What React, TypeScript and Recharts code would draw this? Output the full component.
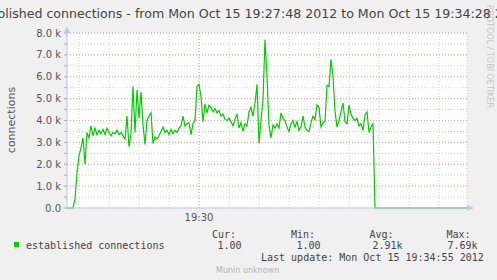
import { LineChart, Line, XAxis, YAxis, CartesianGrid } from 'recharts';

const title = 'established connections - from Mon Oct 15 19:27:48 2012 to Mon Oct 15 19:34:28 2012';
const seriesName = 'established connections';
const yLabel = 'connections';
const watermark = 'RRDTOOL / TOBI OETIKER';
const footer = 'Munin unknown';
const lastUpdate = 'Last update: Mon Oct 15 19:34:55 2012';

// one sample every 2 seconds, starting 19:27:48
const sampleSeconds = 2;
const connections = [
  1, 1, 1, 1, 400, 1600, 2400, 2750, 3200, 2000,
  3450, 3200, 3750, 3300, 3650, 3350, 3550, 3400, 3600, 3350,
  3650, 3450, 3300, 3450, 3400, 3550, 3350, 3450, 3300, 3150,
  4200, 2800, 3400, 5550, 3450, 5400, 4100, 5300, 3800, 2900,
  4000, 4200, 4350, 2950, 3250, 3150, 3300, 3500, 3700, 3450,
  3550, 3350, 3600, 3400, 3550, 3450, 3650, 3750, 4200, 3750,
  3850, 3900, 3350, 3850, 4000, 5550, 5650, 5100, 3950, 4750,
  4350, 4700, 4600, 4400, 4550, 4350, 4450, 4200, 4300, 4050,
  4000, 4100, 3950, 3750, 4050, 4300, 3650, 3900, 3500, 3850,
  3750, 4400, 4600, 4200, 4800, 5650, 2950, 4000, 4950, 7690,
  6000, 3800, 3200, 3800, 3650, 3850, 3650, 4350, 4100, 4000,
  3700, 3500, 3850, 4000, 3700, 3950, 3550, 3700, 4200, 3700,
  3550, 3500, 3900, 4200, 4050, 4700, 4600, 3700, 3900, 3950,
  5600, 5550, 6800, 6000, 4450, 3700, 4000, 4400, 4800, 3950,
  3850, 4700, 4300, 4100, 4000, 4100, 3750, 3850, 3550, 4250,
  4400, 3450, 3700, 3850, 1, 1, 1, 1, 1, 1,
  1, 1, 1, 1, 1, 1, 1, 1, 1, 1,
  1, 1, 1, 1, 1, 1, 1, 1, 1, 1,
  1, 1, 1, 1, 1, 1, 1, 1, 1, 1,
  1, 1, 1, 1, 1, 1, 1, 1, 1, 1,
  1,
];

const yTicks = [0, 500, 1000, 1500, 2000, 2500, 3000, 3500, 4000, 4500, 5000, 5500, 6000, 6500, 7000, 7500, 8000];
const yMajor = [1000, 2000, 3000, 4000, 5000, 6000, 7000, 8000];
const xTicks = [12, 42, 72, 102, 132, 162, 192, 222, 252, 282, 312, 342, 372];
const xMajor = [132];
const xLabels: Record<number, string> = { 132: '19:30' };

const statLabels = ['Cur:', 'Min:', 'Avg:', 'Max:'];
const statValues = ['1.00', '1.00', '2.91k', '7.69k'];

const data = connections.map((v, i) => ({ t: i * sampleSeconds, v }));

const sans = 'DejaVu Sans, sans-serif';
const mono = 'DejaVu Sans Mono, monospace';
const axisColor = '#c4c4f2';

export default function App() {
  const labelX = [212, 291, 369.5, 446.5];
  const valueX = [217.5, 296.5, 372.5, 447.5];
  return (
    <div style={{ position: 'absolute', left: 0, top: 0, width: 497, height: 280, background: '#f0f0f0', overflow: 'hidden' }}>
      <LineChart width={497} height={280} data={data} margin={{ top: 33, right: 30, bottom: 52, left: 7 }}>
        <CartesianGrid fill="#ffffff" stroke="#cfcfcf" strokeDasharray="1 2" />
        <CartesianGrid horizontalValues={yMajor} verticalValues={xMajor} stroke="#e9a3a3" strokeDasharray="1 2" />
        <XAxis
          dataKey="t"
          type="number"
          domain={[0, 400]}
          ticks={xTicks}
          interval={0}
          tickLine={false}
          tickSize={0}
          tickMargin={6}
          height={20}
          axisLine={{ stroke: axisColor }}
          tick={{ fill: '#555', fontSize: 10, fontFamily: sans }}
          tickFormatter={(v: number) => xLabels[v] ?? ''}
        />
        <YAxis
          type="number"
          domain={[0, 8000]}
          ticks={yTicks}
          interval={0}
          width={60}
          tickSize={3}
          tickMargin={3}
          tickLine={{ stroke: '#b0b0b0' }}
          axisLine={{ stroke: axisColor }}
          tick={{ fill: '#555', fontSize: 10, fontFamily: sans }}
          tickFormatter={(v: number) => (v % 1000 !== 0 ? '' : v === 0 ? '0.0' : (v / 1000).toFixed(1) + ' k')}
        />
        <Line type="linear" dataKey="v" stroke="#00cc00" strokeWidth={1.2} dot={false} isAnimationActive={false} />
      </LineChart>
      <svg width={497} height={280} style={{ position: 'absolute', left: 0, top: 0, pointerEvents: 'none' }}>
        <polygon points="64,33 70,33 67,26" fill={axisColor} />
        <line x1={63} y1={208} x2={67} y2={208} stroke={axisColor} />
        <polygon points="467,205 467,211 474,208" fill={axisColor} />
        <text x={486.5} y={108} textAnchor="end" fontFamily={sans} fontSize={8} fill="#c4c4c4" transform="rotate(90 486.5 108)">{watermark}</text>
        <text x={248.5} y={17.5} textAnchor="middle" fontFamily={sans} fontSize={12.6} fill="#444">{title}</text>
        <text x={15} y={120} textAnchor="middle" fontFamily={sans} fontSize={11} fill="#555" transform="rotate(-90 15 120)">{yLabel}</text>
        {statLabels.map((s, i) => (
          <text key={s} x={labelX[i]} y={237.5} fontFamily={mono} fontSize={10} fill="#444">{s}</text>
        ))}
        <rect x={14} y={242} width={5} height={5} fill="#00cc00" />
        <text x={26} y={249} fontFamily={mono} fontSize={10} fill="#444">{seriesName}</text>
        {statValues.map((s, i) => (
          <text key={i} x={valueX[i]} y={249} fontFamily={mono} fontSize={10} fill="#444">{s}</text>
        ))}
        <text x={261} y={260.5} fontFamily={mono} fontSize={10} fill="#444">{lastUpdate}</text>
        <text x={216} y={272.5} fontFamily={sans} fontSize={8} fill="#b4b4b4">{footer}</text>
      </svg>
    </div>
  );
}
